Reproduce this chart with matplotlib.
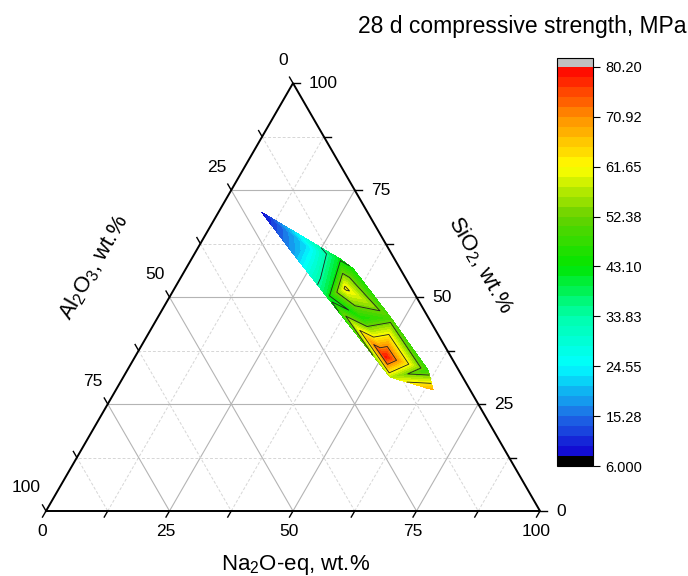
import matplotlib
matplotlib.use("Agg")
import matplotlib.pyplot as plt
import matplotlib.tri as mtri
import numpy as np
from matplotlib.colors import BoundaryNorm, LinearSegmentedColormap, ListedColormap

plt.rcParams["font.family"] = ["Liberation Sans", "DejaVu Sans"]
plt.rcParams["mathtext.fontset"] = "custom"
plt.rcParams["mathtext.rm"] = "Liberation Sans"
plt.rcParams["mathtext.it"] = "Liberation Sans:italic"

# mix compositions (wt.%) and 28 d strength (MPa)
na2o = [8.8, 19.9, 22.7, 30.1, 33.8, 31.9, 34.5, 41.4, 47.3, 50.8, 60.9, 64.2, 54.0]
al2o3 = [21.4, 19.9, 15.8, 11.0, 9.5, 18.1, 13.4, 13.5, 7.6, 13.2, 6.2, 7.5, 14.7]
sio2 = [69.8, 60.2, 61.5, 58.9, 56.7, 50.0, 52.1, 45.1, 45.1, 36.0, 32.9, 28.3, 31.3]
strength_28d = [8.5, 18.0, 24.0, 42.0, 43.5, 40.0, 63.0, 45.0, 49.0, 79.0, 47.0, 69.0, 57.0]

axis_ticks = [0, 25, 50, 75, 100]
cbar_ticks = [6.0, 15.275, 24.55, 33.825, 43.1, 52.375, 61.65, 70.925, 80.2]
cbar_labels = ["6.000", "15.28", "24.55", "33.83", "43.10", "52.38", "61.65", "70.92", "80.20"]

LEVEL_MIN, LEVEL_MAX, N_BANDS = 6.0, 80.2, 40
PX = 494.0  # triangle base in pixels
ORIGIN = (46.0, 511.0)  # bottom-left corner in pixels
H = np.sqrt(3) / 2


def to_xy(na, al, si):
    na, al, si = (np.asarray(v, dtype=float) for v in (na, al, si))
    total = na + al + si
    return (na + si / 2) / total, si / total * H


def px(dx, dy):
    # pixel offset -> axes data units (y measured downward)
    return dx / PX, -dy / PX


def build_cmap(levels):
    ramp = LinearSegmentedColormap.from_list(
        "origin_rainbow",
        [(0.0, "#1000d0"), (0.102, "#1e6ee6"), (0.231, "#00ffff"),
         (0.359, "#00ffaa"), (0.487, "#00e600"), (0.615, "#66d200"),
         (0.744, "#ffff00"), (0.872, "#ff9000"), (1.0, "#ff0000")],
    )
    centers = (levels[:-1] + levels[1:]) / 2
    lo, hi = levels[1], levels[-1]
    colors = ["black"] + [ramp((c - lo) / (hi - lo)) for c in centers[1:]]
    cmap = ListedColormap(colors)
    cmap.set_over("#c0c0c0")
    return cmap


fig = plt.figure(figsize=(6.88, 5.76), dpi=100)
ax = fig.add_axes([0, 0, 1, 1])
ax.set_xlim(-ORIGIN[0] / PX, (688 - ORIGIN[0]) / PX)
ax.set_ylim(-(576 - ORIGIN[1]) / PX, ORIGIN[1] / PX)
ax.axis("off")

# grid
for v in np.arange(12.5, 100, 12.5):
    if v % 25 == 0:
        style = dict(color="#b4b4b4", lw=0.8, ls="-")
    else:
        style = dict(color="#d6d6d6", lw=0.7, ls=(0, (3, 2)))
    for p1, p2 in [
        (to_xy(100 - v, 0, v), to_xy(0, 100 - v, v)),
        (to_xy(v, 100 - v, 0), to_xy(v, 0, 100 - v)),
        (to_xy(0, v, 100 - v), to_xy(100 - v, v, 0)),
    ]:
        ax.plot([p1[0], p2[0]], [p1[1], p2[1]], zorder=1, **style)

# contour map
x, y = to_xy(na2o, al2o3, sio2)
tri = mtri.Triangulation(x, y)
levels = np.linspace(LEVEL_MIN, LEVEL_MAX, N_BANDS + 1)
cmap = build_cmap(levels)
norm = BoundaryNorm(levels, cmap.N)
ax.tricontourf(tri, strength_28d, levels=levels, cmap=cmap, norm=norm, zorder=3)
ax.tricontour(tri, strength_28d, levels=cbar_ticks[3:-1], colors="#202020",
              linewidths=0.6, zorder=3.5)

# frame
corners = [to_xy(0, 100, 0), to_xy(100, 0, 0), to_xy(0, 0, 100), to_xy(0, 100, 0)]
ax.plot([c[0] for c in corners], [c[1] for c in corners], color="black", lw=1.4,
        zorder=4, solid_joinstyle="miter")

# ticks and labels
tl = 7 / PX
for v in np.arange(0, 100.1, 12.5):
    bx, by = to_xy(v, 100 - v, 0)
    ax.plot([bx, bx - 0.5 * tl], [by, by - H * tl], color="black", lw=1.0, zorder=4)
    lx, ly = to_xy(0, v, 100 - v)
    ax.plot([lx, lx - 0.5 * tl], [ly, ly + H * tl], color="black", lw=1.0, zorder=4)
    rx, ry = to_xy(100 - v, 0, v)
    ax.plot([rx, rx + tl], [ry, ry], color="black", lw=1.0, zorder=4)

for v in axis_ticks:
    bx, by = to_xy(v, 100 - v, 0)
    dx, dy = px(-4, 21)
    ax.text(bx + dx, by + dy, f"{v}", ha="center", va="center", fontsize=12.5)
    lx, ly = to_xy(0, v, 100 - v)
    dx, dy = px(-5, -23)
    ax.text(lx + dx, ly + dy, f"{v}", ha="right", va="center", fontsize=12.5)
    rx, ry = to_xy(100 - v, 0, v)
    dx, dy = px(16, 0)
    ax.text(rx + dx, ry + dy, f"{v}", ha="left", va="center", fontsize=12.5)

# axis titles
ax.text((296 - ORIGIN[0]) / PX, (ORIGIN[1] - 565) / PX, "Na$_2$O-eq, wt.%",
        ha="center", va="center", fontsize=16)
ax.text((94 - ORIGIN[0]) / PX, (ORIGIN[1] - 267) / PX, "Al$_2$O$_3$, wt.%",
        ha="center", va="center", rotation=60, rotation_mode="anchor", fontsize=16)
ax.text((480 - ORIGIN[0]) / PX, (ORIGIN[1] - 265) / PX, "SiO$_2$, wt.%",
        ha="center", va="center", rotation=-60, rotation_mode="anchor", fontsize=16)

# colour scale
cax = fig.add_axes([557 / 688, (576 - 466) / 576, 36 / 688, 408 / 576])
sm = plt.cm.ScalarMappable(norm=norm, cmap=cmap)
cb = fig.colorbar(sm, cax=cax, extend="max", extendrect=True, extendfrac=9 / 408)
cb.set_ticks(cbar_ticks, labels=cbar_labels)
cb.minorticks_off()
cb.outline.set_linewidth(0.8)
cax.tick_params(direction="out", length=5, width=0.8, labelsize=10.5, pad=4)

fig.text(522 / 688, 1 - 27 / 576, "28 d compressive strength, MPa",
         ha="center", va="center", fontsize=16.5)

fig.savefig("out.png", dpi=100)
